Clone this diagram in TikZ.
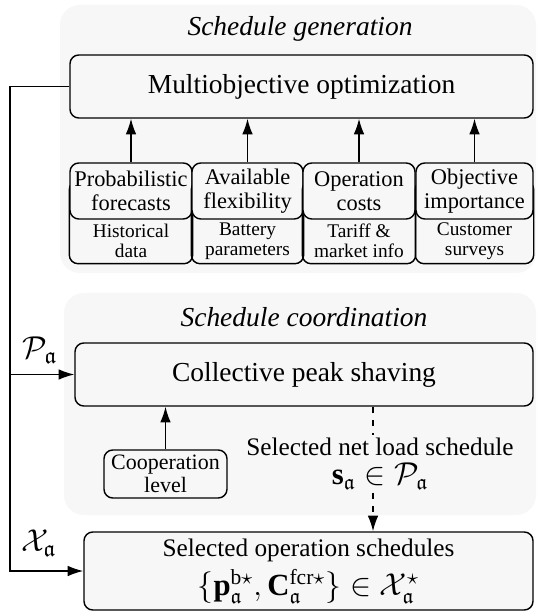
\documentclass[tikz,border=0pt]{standalone}
\usepackage{fontspec}
\setmainfont{Liberation Serif}
\usepackage{amsmath, amssymb}
\usepackage{tikz}
\usetikzlibrary{arrows.meta, positioning, calc}
\definecolor{panelgray}{RGB}{247, 247, 247}

\begin{document}
\begin{tikzpicture}[
  line width=0.65pt,
  >={Latex[length=2.5mm, width=1.7mm]},
  panel/.style={fill=panelgray, rounded corners=9pt},
  paneltitle/.style={font=\fontsize{12.5}{15}\selectfont\itshape},
  mainbox/.style={draw, fill=panelgray, rounded corners=4pt, align=center, inner sep=0pt, font=\fontsize{12.5}{15}\selectfont},
  itembox/.style={draw, fill=panelgray, rounded corners=4pt, align=center, inner sep=0pt, minimum height=0.896cm, font=\fontsize{10.2}{11.2}\selectfont},
  srcbox/.style={align=center, inner sep=0pt, minimum height=0.704cm, font=\fontsize{8.8}{9}\selectfont},
  mathlabel/.style={font=\fontsize{15}{17}\selectfont},
]
  \useasboundingbox (0,0) rectangle (8.576,-9.776);

  % background panels
  \fill[panel] (0.96,-0.08) rectangle (8.576,-4.368);
  \fill[panel] (1.024,-4.688) rectangle (8.576,-8.24);

  % schedule generation
  \node[paneltitle] (gentitle) at (4.8,-0.464) {Schedule generation};
  \node[mainbox, minimum width=7.408cm, minimum height=1.008cm] (multiopt) at (4.824,-1.384) {Multiobjective optimization};

  \foreach \name/\cx/\w/\top/\bottom in {
      forecast/2.096/1.952/{Probabilistic\\forecasts}/{Historical\\data},
      flex/3.96/1.776/{Available\\flexibility}/{Battery\\parameters},
      costs/5.744/1.792/{Operation\\costs}/{Tariff \&\\market info},
      importance/7.592/1.872/{Objective\\importance}/{Customer\\surveys}} {
    \node[srcbox, minimum width=\w cm] (\name-src) at (\cx,-3.856) {\bottom};
    \draw[rounded corners=4pt] (\name-src.south west) rectangle ($(\name-src.north east)+(0,0.6)$);
    \node[itembox, minimum width=\w cm] (\name) at (\cx,-3.056) {\top};
    \draw[->] (\name.north) -- (\name.north |- multiopt.south);
  }

  % schedule coordination
  \node[paneltitle] (cordtitle) at (4.864,-5.072) {Schedule coordination};
  \node[mainbox, minimum width=7.328cm, minimum height=1.008cm] (peak) at (4.864,-5.992) {Collective peak shaving};
  \node[itembox, minimum width=1.968cm, minimum height=0.768cm, font=\fontsize{10}{10.5}\selectfont] (coop) at (2.648,-7.584) {Cooperation\\level};
  \draw[->] (coop.north) -- (coop.north |- peak.south);

  \node[align=center, inner sep=1pt, font=\fontsize{11.5}{13.5}\selectfont] (netload) at (6.08,-7.42)
    {Selected net load schedule\\{\fontsize{14}{16}\selectfont $\mathbf{s}_{\mathfrak{a}} \in \mathcal{P}_{\mathfrak{a}}$}};

  % selected schedules
  \node[mainbox, minimum width=7.184cm, minimum height=1.248cm, font=\fontsize{11.5}{18}\selectfont] (chosen) at (4.936,-9.136)
    {Selected operation schedules\\{\fontsize{14}{16}\selectfont $\{\mathbf{p}^{\mathrm{b}\star}_{\mathfrak{a}},\mathbf{C}^{\mathrm{fcr}\star}_{\mathfrak{a}}\} \in \mathcal{X}^{\star}_{\mathfrak{a}}$}};

  \coordinate (dashx) at (5.968,0);
  \draw[dashed] (peak.south -| dashx) -- (netload.north -| dashx);
  \draw[dashed, ->] (netload.south -| dashx) -- (chosen.north -| dashx);

  % feedback rail
  \coordinate (rail) at (0.16,0);
  \draw[->] (multiopt.west) -- (multiopt.west -| rail) |- (chosen.west);
  \draw[->] (peak.west -| rail) -- (peak.west);
  \node[mathlabel] (pset) at (0.64,-5.6) {$\mathcal{P}_{\mathfrak{a}}$};
  \node[mathlabel] (xset) at (0.62,-8.69) {$\mathcal{X}_{\mathfrak{a}}$};
\end{tikzpicture}
\end{document}
